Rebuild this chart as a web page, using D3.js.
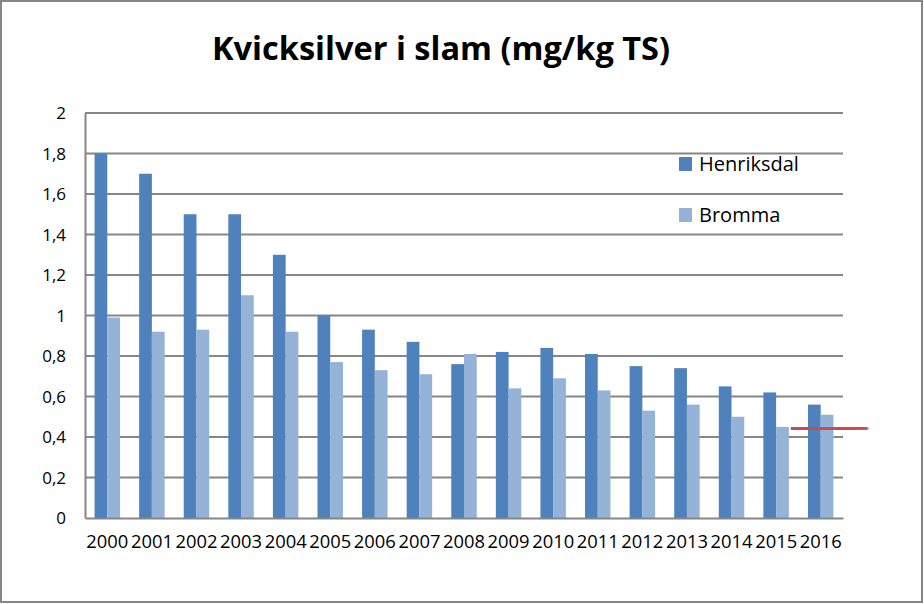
<!DOCTYPE html>
<html>
<head>
<meta charset="utf-8">
<script src="https://cdn.jsdelivr.net/npm/d3@7"></script>
<style>
  html, body { margin: 0; padding: 0; background: #fff; }
  svg { display: block; }
  text { font-family: "Open Sans", "Liberation Sans", sans-serif; fill: #000; }
</style>
</head>
<body>
<div id="chart"></div>
<script>
// data
const years = ["2000","2001","2002","2003","2004","2005","2006","2007","2008",
               "2009","2010","2011","2012","2013","2014","2015","2016"];
const henriksdal = [1.8, 1.7, 1.5, 1.5, 1.3, 1.0, 0.93, 0.87, 0.76, 0.82, 0.84, 0.81, 0.75, 0.74, 0.65, 0.62, 0.56];
const bromma     = [0.99, 0.92, 0.93, 1.1, 0.92, 0.77, 0.73, 0.71, 0.81, 0.64, 0.69, 0.63, 0.53, 0.56, 0.50, 0.45, 0.51];
const seriesNames = ["Henriksdal", "Bromma"];
const yTicks = [0, 0.2, 0.4, 0.6, 0.8, 1, 1.2, 1.4, 1.6, 1.8, 2];
// red target line drawn near the end (value at start and end)
const targetLine = [0.44, 0.446];

const width = 924, height = 604;
const margin = { top: 113, right: 81, bottom: 86, left: 85 };
const colors = ["#4f81bd", "#95b3d7"];

const svg = d3.select("#chart").append("svg")
    .attr("width", width)
    .attr("height", height);

svg.append("defs").append("filter")
    .attr("id", "shadow")
    .append("feDropShadow")
    .attr("dx", 1.5).attr("dy", 2)
    .attr("stdDeviation", 1.2)
    .attr("flood-color", "#000")
    .attr("flood-opacity", 0.35);

// outer frame
svg.append("rect")
    .attr("x", 1).attr("y", 1)
    .attr("width", width - 3).attr("height", height - 3)
    .attr("fill", "#fff")
    .attr("stroke", "#868686")
    .attr("stroke-width", 2);

svg.append("text")
    .attr("x", 441)
    .attr("y", 60)
    .attr("text-anchor", "middle")
    .style("font-size", "32px")
    .style("font-weight", "bold")
    .attr("textLength", 458)
    .attr("lengthAdjust", "spacingAndGlyphs")
    .text("Kvicksilver i slam (mg/kg TS)");

const x = d3.scaleBand()
    .domain(years)
    .range([margin.left, width - margin.right])
    .paddingInner(0)
    .paddingOuter(0);

const y = d3.scaleLinear()
    .domain([0, 2])
    .range([height - margin.bottom, margin.top]);

// gap 150% of a bar: band = 2 bars + 1.5 bars
const barW = x.bandwidth() / 3.5;
const x1 = d3.scaleBand()
    .domain(seriesNames)
    .range([0.75 * barW, 2.75 * barW]);

// gridlines
svg.append("g")
    .selectAll("line")
    .data(yTicks.slice(1))
    .join("line")
    .attr("x1", margin.left)
    .attr("x2", width - margin.right)
    .attr("y1", d => y(d))
    .attr("y2", d => y(d))
    .attr("stroke", "#868686")
    .attr("stroke-width", 2);

// y axis
const yAxis = svg.append("g")
    .attr("transform", `translate(${margin.left},0)`)
    .call(d3.axisLeft(y)
        .tickValues(yTicks)
        .tickSize(0)
        .tickPadding(19)
        .tickFormat(d => String(d).replace(".", ",")));
yAxis.select(".domain").attr("stroke", "#868686").attr("stroke-width", 2);
yAxis.selectAll("text").style("font-size", "17px").attr("dy", "0.35em");

// bars
const rows = years.map((yr, i) => ({ year: yr, vals: [henriksdal[i], bromma[i]] }));
svg.append("g")
    .selectAll("g")
    .data(rows)
    .join("g")
    .attr("transform", d => `translate(${x(d.year)},0)`)
    .selectAll("rect")
    .data(d => d.vals.map((v, j) => ({ name: seriesNames[j], v, j })))
    .join("rect")
    .attr("x", d => x1(d.name))
    .attr("width", x1.bandwidth())
    .attr("y", d => y(d.v))
    .attr("height", d => y(0) - y(d.v))
    .attr("fill", d => colors[d.j]);

// x axis
const xAxis = svg.append("g")
    .attr("transform", `translate(0,${y(0)})`)
    .call(d3.axisBottom(x).tickSize(0).tickPadding(14));
xAxis.select(".domain").attr("stroke", "#868686").attr("stroke-width", 2);
xAxis.selectAll("text").style("font-size", "17.5px").attr("dy", "0.9em")
    .attr("textLength", 42).attr("lengthAdjust", "spacingAndGlyphs");

// legend
const legend = svg.append("g")
    .selectAll("g")
    .data(seriesNames)
    .join("g")
    .attr("transform", (d, i) => `translate(679,${157 + i * 51})`);
legend.append("rect")
    .attr("width", 13).attr("height", 14)
    .attr("fill", (d, i) => colors[i]);
legend.append("text")
    .attr("x", 20).attr("y", 14)
    .style("font-size", "20px")
    .text(d => d);

// red line
const lx0 = x("2015") + 0.83 * x.bandwidth();
const lx1 = x("2016") + 1.55 * x.bandwidth();
svg.append("line")
    .attr("x1", lx0).attr("x2", lx1)
    .attr("y1", y(targetLine[0])).attr("y2", y(targetLine[1]))
    .attr("stroke", "#c0504d")
    .attr("stroke-width", 4)
    .attr("filter", "url(#shadow)");
</script>
</body>
</html>
